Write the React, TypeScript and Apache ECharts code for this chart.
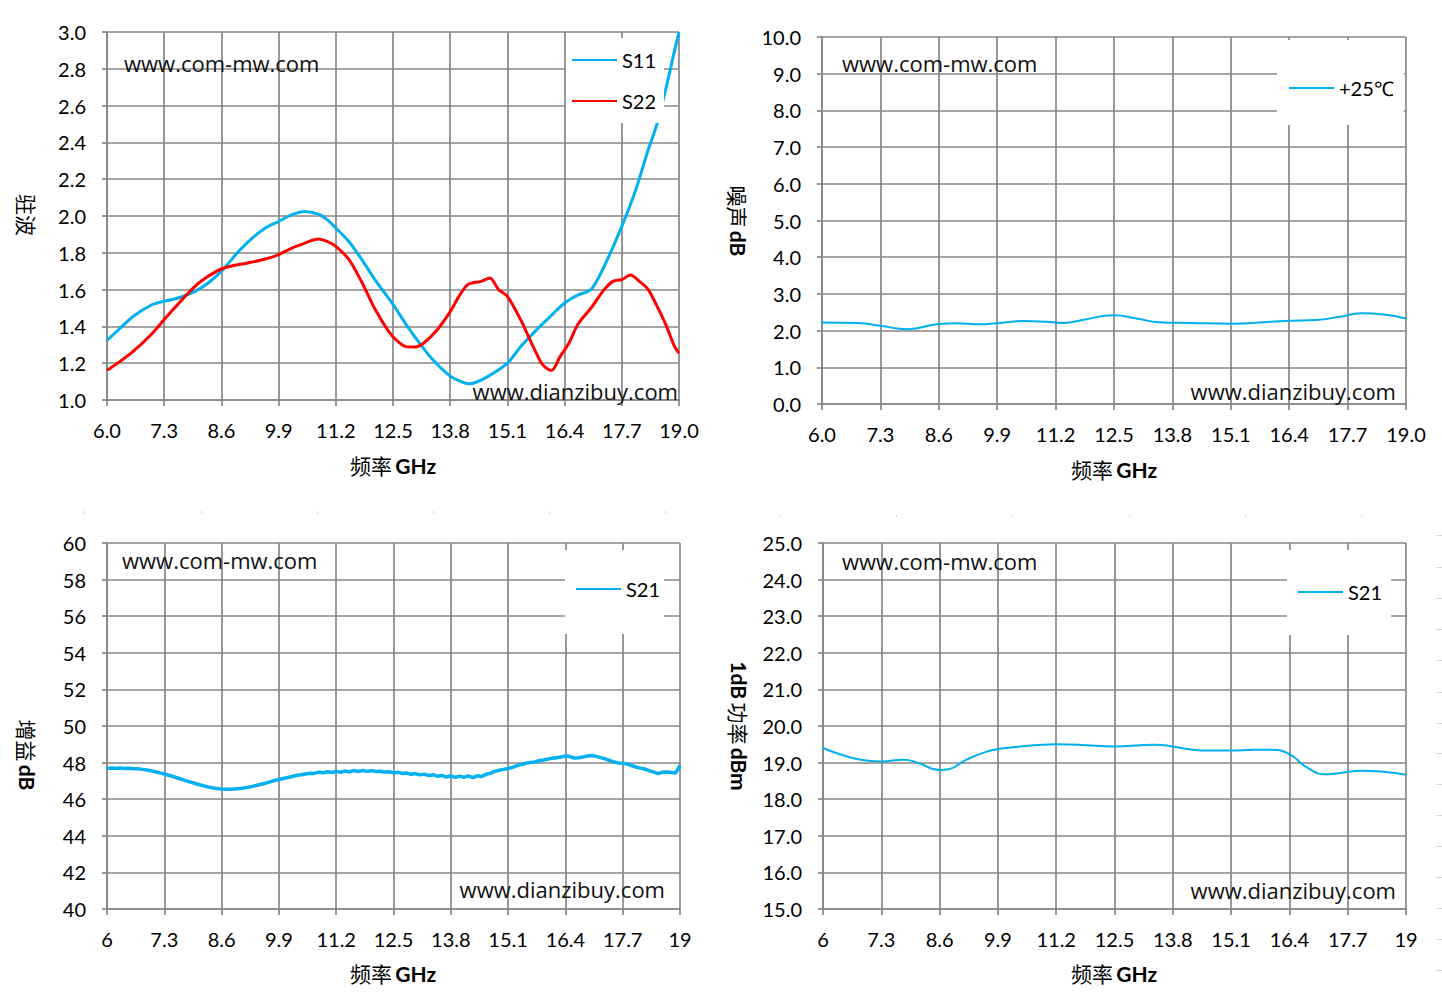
import React, { useEffect, useRef } from "react";
import * as echarts from "echarts";

// ---------- Data ----------
// Top-left: VSWR (驻波)
const S11_FREQ = [6.0, 6.3, 6.6, 7.0, 7.3, 7.6, 8.0, 8.3, 8.6, 9.0, 9.3, 9.6, 9.9, 10.2, 10.5, 10.8, 11.0, 11.2, 11.5, 11.8, 12.1, 12.5, 12.8, 13.1, 13.4, 13.8, 14.1, 14.25, 14.6, 15.1, 15.4, 15.8, 16.1, 16.4, 16.7, 17.0, 17.3, 17.7, 18.0, 18.3, 18.5, 18.7, 18.9, 19.0];
const S11_VSWR = [1.324, 1.39, 1.455, 1.515, 1.537, 1.553, 1.59, 1.636, 1.70, 1.81, 1.88, 1.935, 1.97, 2.007, 2.025, 2.01, 1.98, 1.935, 1.86, 1.76, 1.65, 1.52, 1.41, 1.31, 1.22, 1.13, 1.095, 1.088, 1.12, 1.2, 1.29, 1.39, 1.46, 1.527, 1.57, 1.60, 1.727, 1.944, 2.13, 2.36, 2.5, 2.69, 2.9, 3.0];

const S22_FREQ = [6.0, 6.3, 6.6, 7.0, 7.3, 7.6, 8.0, 8.3, 8.6, 8.9, 9.2, 9.6, 9.9, 10.2, 10.5, 10.8, 11.0, 11.2, 11.5, 11.8, 12.1, 12.4, 12.6, 12.8, 13.0, 13.2, 13.5, 13.8, 14.0, 14.2, 14.5, 14.7, 14.9, 15.1, 15.4, 15.7, 15.9, 16.1, 16.3, 16.5, 16.7, 17.0, 17.3, 17.5, 17.7, 17.9, 18.1, 18.3, 18.5, 18.7, 18.9, 19.0];
const S22_VSWR = [1.161, 1.21, 1.265, 1.355, 1.437, 1.518, 1.618, 1.672, 1.712, 1.732, 1.745, 1.766, 1.79, 1.826, 1.853, 1.875, 1.862, 1.835, 1.763, 1.636, 1.49, 1.373, 1.32, 1.29, 1.288, 1.31, 1.38, 1.48, 1.563, 1.627, 1.645, 1.663, 1.6, 1.563, 1.437, 1.283, 1.192, 1.161, 1.237, 1.31, 1.41, 1.5, 1.6, 1.645, 1.654, 1.68, 1.645, 1.6, 1.51, 1.41, 1.29, 1.255];

// Top-right: noise figure (噪声 dB)
const NF_FREQ = [6.0, 6.8, 7.3, 7.9, 8.6, 9.0, 9.5, 9.9, 10.5, 11.0, 11.4, 11.8, 12.5, 13.0, 13.5, 14.2, 15.1, 16.0, 16.4, 17.0, 17.5, 18.0, 18.5, 19.0];
const NF_DB = [2.22, 2.21, 2.13, 2.04, 2.18, 2.2, 2.17, 2.2, 2.26, 2.24, 2.21, 2.29, 2.42, 2.33, 2.23, 2.21, 2.19, 2.24, 2.27, 2.29, 2.37, 2.47, 2.44, 2.33];

// Bottom-left: gain (增益 dB), 6.0 … 19.0 GHz every 0.1 GHz
const GAIN_START = 6.0;
const GAIN_STEP = 0.1;
const GAIN_DB = [
  47.68, 47.70, 47.69, 47.70, 47.68, 47.69, 47.66, 47.67, 47.63, 47.60,
  47.55, 47.50, 47.44, 47.38, 47.31, 47.24, 47.16, 47.08, 47.00, 46.93,
  46.86, 46.79, 46.73, 46.67, 46.62, 46.58, 46.55, 46.54, 46.55, 46.56,
  46.58, 46.61, 46.65, 46.70, 46.76, 46.82, 46.88, 46.95, 47.02, 47.07,
  47.13, 47.19, 47.24, 47.30, 47.34, 47.38, 47.42, 47.41, 47.48, 47.44,
  47.50, 47.46, 47.52, 47.47, 47.54, 47.49, 47.57, 47.51, 47.57, 47.52,
  47.56, 47.51, 47.53, 47.48, 47.50, 47.45, 47.47, 47.41, 47.43, 47.36,
  47.40, 47.33, 47.37, 47.29, 47.34, 47.25, 47.30, 47.21, 47.28, 47.19,
  47.26, 47.19, 47.27, 47.18, 47.28, 47.24, 47.36, 47.42, 47.52, 47.58,
  47.63, 47.68, 47.74, 47.83, 47.90, 47.96, 48.00, 48.04, 48.10, 48.14,
  48.19, 48.24, 48.27, 48.30, 48.37, 48.33, 48.25, 48.27, 48.31, 48.36,
  48.39, 48.34, 48.27, 48.20, 48.12, 48.04, 47.98, 47.96, 47.92, 47.84,
  47.76, 47.70, 47.65, 47.56, 47.48, 47.40, 47.47, 47.49, 47.46, 47.43,
  47.85,
];

// Bottom-right: P1dB (1dB 功率 dBm)
const P1_FREQ = [6.0, 6.5, 7.0, 7.3, 7.8, 8.1, 8.6, 8.8, 9.2, 9.6, 9.9, 10.4, 10.9, 11.2, 11.7, 12.5, 13.0, 13.4, 13.8, 14.2, 14.6, 15.1, 15.6, 16.0, 16.4, 16.8, 17.2, 17.5, 18.0, 18.5, 19.0];
const P1_DBM = [19.40, 19.18, 19.05, 19.03, 19.08, 19.0, 18.8, 18.82, 19.08, 19.28, 19.37, 19.44, 19.49, 19.5, 19.49, 19.44, 19.47, 19.49, 19.44, 19.36, 19.33, 19.33, 19.35, 19.35, 19.23, 18.86, 18.68, 18.71, 18.78, 18.75, 18.67];

// Axis settings
const FREQ_MIN = 6.0;
const FREQ_SPAN = 13.0;
const FREQ_STEP = 1.3;

const Y_VSWR = { min: 1.0, max: 3.0, interval: 0.2, digits: 1 };
const Y_NF = { min: 0, max: 10, interval: 1, digits: 1 };
const Y_GAIN = { min: 40, max: 60, interval: 2, digits: 0 };
const Y_P1 = { min: 15, max: 25, interval: 1, digits: 1 };

const LEGEND_VSWR = ["S11", "S22"];
const LEGEND_NF = ["+25℃"];
const LEGEND_GAIN = ["S21"];
const LEGEND_P1 = ["S21 "];

const WM_TOP = "www.com-mw.com";
const WM_BOTTOM = "www.dianzibuy.com";

// ---------- Styles ----------
const BLUE = "#00B0F0";
const RED = "#FF0000";
const GRID_C = "#878787";
const NUM_FONT = "Lato";
const CJK_FONT = "'Noto Sans CJK SC'";
const WM_FONT = "'Open Sans'";

const pairs = (f: number[], v: number[]) => f.map((x, i) => [+(x - FREQ_MIN).toFixed(3), v[i]]);

function xAxisCfg(gridIndex: number, topStyle: boolean) {
  return {
    type: "value",
    gridIndex,
    min: 0,
    max: FREQ_SPAN,
    interval: FREQ_STEP,
    axisLine: { show: true, onZero: false, lineStyle: { color: GRID_C, width: 1.7 } },
    axisTick: { show: true, length: 6, lineStyle: { color: GRID_C, width: 1.7 } },
    axisLabel: {
      margin: 20,
      color: "#000",
      fontFamily: NUM_FONT,
      fontSize: 20,
      formatter: (v: number) => {
        const f = Math.round((v + FREQ_MIN) * 10) / 10;
        return topStyle ? f.toFixed(1) : String(f);
      },
    },
    splitLine: { show: true, lineStyle: { color: GRID_C, width: 1.7 } },
  };
}

function yAxisCfg(gridIndex: number, y: { min: number; max: number; interval: number; digits: number }) {
  return {
    type: "value",
    gridIndex,
    min: y.min,
    max: y.max,
    interval: y.interval,
    axisLine: { show: true, onZero: false, lineStyle: { color: GRID_C, width: 1.7 } },
    axisTick: { show: true, length: 5, lineStyle: { color: GRID_C, width: 1.7 } },
    axisLabel: {
      margin: 21,
      color: "#000",
      fontFamily: NUM_FONT,
      fontSize: 20,
      formatter: (v: number) => v.toFixed(y.digits),
    },
    splitLine: { show: true, lineStyle: { color: GRID_C, width: 1.7 } },
  };
}

function legendCfg(names: string[], left: number, top: number, padding: number[], itemTextGap: number, itemGap = 21) {
  return {
    data: names,
    orient: "vertical",
    left,
    top,
    padding,
    itemGap,
    icon: "rect",
    itemWidth: 45,
    itemHeight: 2,
    itemTextGap,
    backgroundColor: "#ffffff",
    selectedMode: false,
    textStyle: { color: "#000", fontFamily: NUM_FONT, fontSize: 20, lineHeight: 20 },
  };
}

const richName = {
  c: { fontFamily: CJK_FONT, fontSize: 21, color: "#000" },
  b: { fontFamily: NUM_FONT, fontWeight: "bold", fontSize: 21, color: "#000" },
};

function nameText(x: number, y: number, text: string, vertical: boolean) {
  return {
    type: "text",
    x,
    y,
    rotation: vertical ? -Math.PI / 2 : 0,
    z: 20,
    style: { text, rich: richName, align: "center", verticalAlign: "middle", fill: "#000" },
  };
}

function wmText(x: number, y: number, text: string, align: string) {
  return {
    type: "text",
    x,
    y,
    z: 20,
    style: { text, fontFamily: WM_FONT, fontSize: 22, fill: "#111", align, verticalAlign: "middle" },
  };
}

const DOT_TOP_LEFT = [84, 201, 317, 433, 549, 665];
const DOT_TOP_RIGHT = [780, 896, 1012, 1129, 1245, 1361];
const EDGE_TICKS = [535, 567, 598, 629, 660, 692, 723, 753, 784, 815, 846, 877, 908, 939, 970];

export default function App() {
  const ref = useRef<HTMLDivElement>(null);

  useEffect(() => {
    document.body.style.margin = "0";
    if (!ref.current) return;
    const chart = echarts.init(ref.current, undefined, { renderer: "svg" });

    const gainPairs = GAIN_DB.map((v, i) => [+(GAIN_START + i * GAIN_STEP - FREQ_MIN).toFixed(3), v]);

    const decor: any[] = [];
    DOT_TOP_LEFT.forEach((x) => decor.push({ type: "rect", shape: { x, y: 511, width: 1, height: 3 }, style: { fill: "#d4d4d4" } }));
    DOT_TOP_RIGHT.forEach((x) => decor.push({ type: "rect", shape: { x, y: 515, width: 1, height: 2 }, style: { fill: "#d4d4d4" } }));
    EDGE_TICKS.forEach((y) => decor.push({ type: "rect", shape: { x: 1436, y, width: 6, height: 1 }, style: { fill: "#d8d8d8" } }));

    const option: any = {
      animation: false,
      backgroundColor: "#ffffff",
      grid: [
        { left: 107, top: 32, width: 572, height: 368 },
        { left: 822, top: 37, width: 584, height: 367 },
        { left: 107, top: 543, width: 573, height: 366 },
        { left: 823, top: 543, width: 583, height: 366 },
      ],
      xAxis: [xAxisCfg(0, true), xAxisCfg(1, true), xAxisCfg(2, false), xAxisCfg(3, false)],
      yAxis: [yAxisCfg(0, Y_VSWR), yAxisCfg(1, Y_NF), yAxisCfg(2, Y_GAIN), yAxisCfg(3, Y_P1)],
      legend: [
        legendCfg(LEGEND_VSWR, 566, 38, [12, 8, 12, 6], 5),
        legendCfg(LEGEND_NF, 1277, 40, [38, 10, 27, 12], 9),
        legendCfg(LEGEND_GAIN, 565, 550, [29, 4, 35, 11], 5),
        legendCfg(LEGEND_P1, 1287, 550, [32, 4, 33, 11], 4),
      ],
      series: [
        {
          name: LEGEND_VSWR[0], type: "line", xAxisIndex: 0, yAxisIndex: 0, symbol: "none", smooth: 0.3,
          lineStyle: { color: BLUE, width: 3 }, itemStyle: { color: BLUE }, data: pairs(S11_FREQ, S11_VSWR),
        },
        {
          name: LEGEND_VSWR[1], type: "line", xAxisIndex: 0, yAxisIndex: 0, symbol: "none", smooth: 0.3,
          lineStyle: { color: RED, width: 3 }, itemStyle: { color: RED }, data: pairs(S22_FREQ, S22_VSWR),
        },
        {
          name: LEGEND_NF[0], type: "line", xAxisIndex: 1, yAxisIndex: 1, symbol: "none", smooth: 0.5,
          lineStyle: { color: BLUE, width: 2 }, itemStyle: { color: BLUE }, data: pairs(NF_FREQ, NF_DB),
        },
        {
          name: LEGEND_GAIN[0], type: "line", xAxisIndex: 2, yAxisIndex: 2, symbol: "none",
          lineStyle: { color: BLUE, width: 3.5 }, itemStyle: { color: BLUE }, data: gainPairs,
        },
        {
          name: LEGEND_P1[0], type: "line", xAxisIndex: 3, yAxisIndex: 3, symbol: "none", smooth: 0.5,
          lineStyle: { color: BLUE, width: 2 }, itemStyle: { color: BLUE }, data: pairs(P1_FREQ, P1_DBM),
        },
      ],
      graphic: {
        elements: [
          // axis titles
          nameText(27, 215, "{c|驻波}", true),
          nameText(738, 221, "{c|噪声} {b|dB}", true),
          nameText(27, 755, "{c|增益} {b|dB}", true),
          nameText(739, 726, "{b|1dB} {c|功率} {b|dBm}", true),
          nameText(393, 465, "{c|频率} {b|GHz}", false),
          nameText(1114, 469, "{c|频率} {b|GHz}", false),
          nameText(393, 973, "{c|频率} {b|GHz}", false),
          nameText(1114, 973, "{c|频率} {b|GHz}", false),
          // watermarks
          wmText(124, 63, WM_TOP, "left"),
          wmText(678, 391, WM_BOTTOM, "right"),
          wmText(842, 63, WM_TOP, "left"),
          wmText(1396, 391, WM_BOTTOM, "right"),
          wmText(122, 560, WM_TOP, "left"),
          wmText(665, 889, WM_BOTTOM, "right"),
          wmText(842, 561, WM_TOP, "left"),
          wmText(1396, 890, WM_BOTTOM, "right"),
          ...decor,
        ],
      },
    };

    chart.setOption(option);
    return () => chart.dispose();
  }, []);

  return <div ref={ref} style={{ width: 1442, height: 1000 }} />;
}
